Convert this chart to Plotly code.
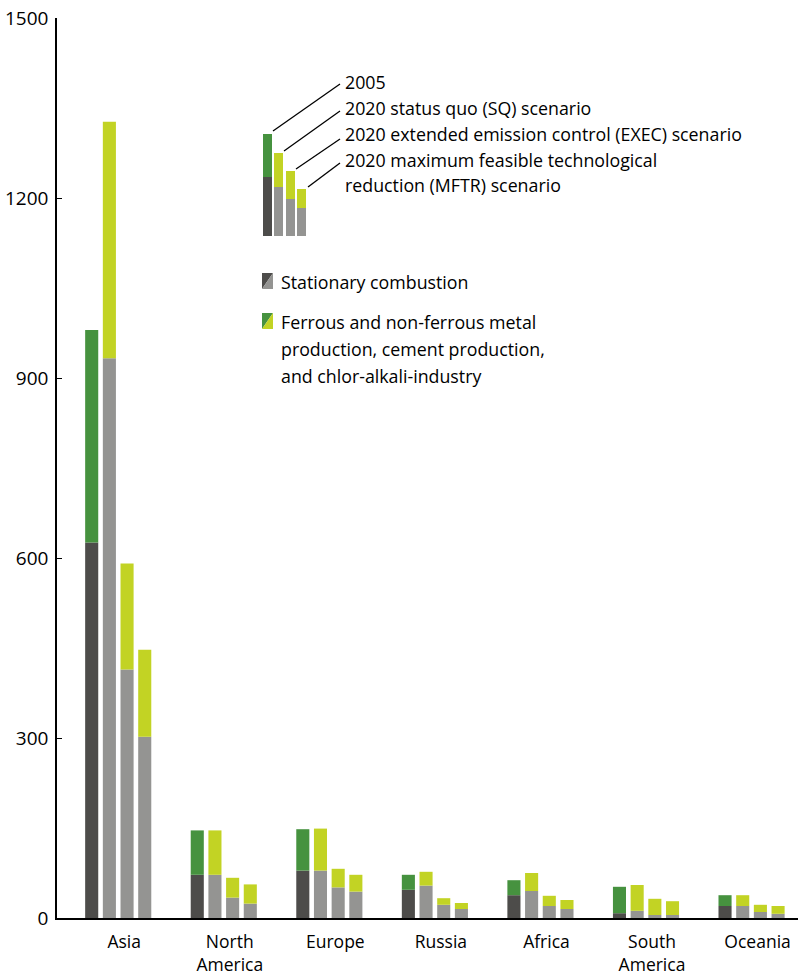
import plotly.graph_objects as go

# mercury emissions by region
regions = ["Asia", "North<br>America", "Europe", "Russia", "Africa", "South<br>America", "Oceania"]

stationary_2005 = [626, 72, 79, 47, 38, 8, 20]
industry_2005 = [354, 74, 69, 25, 25, 44, 18]

stationary_sq = [933, 72, 79, 54, 45, 12, 20]
industry_sq = [394, 74, 70, 23, 30, 43, 18]

stationary_exec = [414, 34, 51, 22, 20, 5, 10]
industry_exec = [177, 33, 31, 11, 17, 27, 12]

stationary_mftr = [302, 24, 44, 15, 15, 5, 7]
industry_mftr = [145, 32, 28, 10, 15, 23, 13]

y_ticks = [0, 300, 600, 900, 1200, 1500]

DARK = "#4d4c4a"
GREY = "#949492"
GREEN = "#46923f"
LIME = "#c2d324"
FONT = "Open Sans"

# plot area in pixels, used only to place the legend drawing
L, R, T, B = 57, 798, 18, 918


def px(x):
    return (x - L) / (R - L)


def py(y):
    return (B - y) / (B - T)


fig = go.Figure()

scenarios = [
    (stationary_2005, industry_2005, DARK, GREEN),
    (stationary_sq, industry_sq, GREY, LIME),
    (stationary_exec, industry_exec, GREY, LIME),
    (stationary_mftr, industry_mftr, GREY, LIME),
]

for i, (stat, ind, c1, c2) in enumerate(scenarios):
    fig.add_trace(go.Bar(x=regions, y=stat, offsetgroup=str(i),
                         marker=dict(color=c1, line_width=0), showlegend=False))
    fig.add_trace(go.Bar(x=regions, y=ind, base=stat, offsetgroup=str(i),
                         marker=dict(color=c2, line_width=0), showlegend=False))

shapes = []

# small sample bars of the scenario key
key_bars = [
    (263, 272, 134, 177, DARK, GREEN),
    (274, 283, 153, 187, GREY, LIME),
    (286, 295, 171, 199, GREY, LIME),
    (297, 306, 189, 208, GREY, LIME),
]
for x0, x1, top, mid, c1, c2 in key_bars:
    shapes.append(dict(type="rect", xref="paper", yref="paper", x0=px(x0), x1=px(x1),
                       y0=py(236), y1=py(mid), fillcolor=c1, line_width=0))
    shapes.append(dict(type="rect", xref="paper", yref="paper", x0=px(x0), x1=px(x1),
                       y0=py(mid), y1=py(top), fillcolor=c2, line_width=0))

# leader lines
leaders = [(273, 131, 340, 84), (284, 151, 340, 111), (296, 169, 340, 139), (308, 187, 340, 163)]
for x0, y0, x1, y1 in leaders:
    shapes.append(dict(type="line", xref="paper", yref="paper", x0=px(x0), y0=py(y0),
                       x1=px(x1), y1=py(y1), line=dict(color="black", width=1.3)))

# sector key icons, split on the diagonal
for top, c1, c2 in [(273, DARK, GREY), (313, GREEN, LIME)]:
    x0, x1, y0, y1 = px(262), px(273), py(top + 16), py(top)
    shapes.append(dict(type="path", xref="paper", yref="paper",
                       path=f"M {x0} {y0} L {x0} {y1} L {x1} {y1} Z", fillcolor=c1, line_width=0))
    shapes.append(dict(type="path", xref="paper", yref="paper",
                       path=f"M {x0} {y0} L {x1} {y1} L {x1} {y0} Z", fillcolor=c2, line_width=0))

annotations = []
key_text = [
    (343, 82, "2005"),
    (343, 108, "2020 status quo (SQ) scenario"),
    (343, 134, "2020 extended emission control (EXEC) scenario"),
    (343, 160, "2020 maximum feasible technological"),
    (343, 185, "reduction (MFTR) scenario"),
    (279, 282, "Stationary combustion"),
    (279, 322, "Ferrous and non-ferrous metal"),
    (279, 349, "production, cement production,"),
    (279, 376, "and chlor-alkali-industry"),
]
for x, y, t in key_text:
    annotations.append(dict(xref="paper", yref="paper", x=px(x), y=py(y), text=t,
                            showarrow=False, xanchor="left", yanchor="middle",
                            font=dict(family=FONT, size=17.8, color="black")))

fig.update_layout(
    width=798, height=976,
    margin=dict(l=L, r=0, t=T, b=976 - B),
    plot_bgcolor="white", paper_bgcolor="white",
    barmode="group", bargap=0.33, bargroupgap=0.26,
    font=dict(family=FONT, size=17, color="black"),
    shapes=shapes, annotations=annotations,
)
fig.update_xaxes(range=[-0.58, 6.44], showline=True, linecolor="black", linewidth=2,
                 ticks="", ticklabelshift=6, ticklabelstandoff=7, automargin=False,
                 tickfont=dict(family=FONT, size=17.5), showgrid=False)
fig.update_yaxes(range=[0, 1500], tickvals=y_ticks, showline=True, linecolor="black",
                 linewidth=1.5, ticks="inside", ticklen=5, tickcolor="black",
                 tickfont=dict(family=FONT, size=19), showgrid=False, zeroline=False,
                 ticklabelstandoff=3, automargin=False)

# the page's default body margin would push the figure off the window
fig.write_html("out.html", config={"displayModeBar": False},
               post_script="document.body.style.margin='0';")
